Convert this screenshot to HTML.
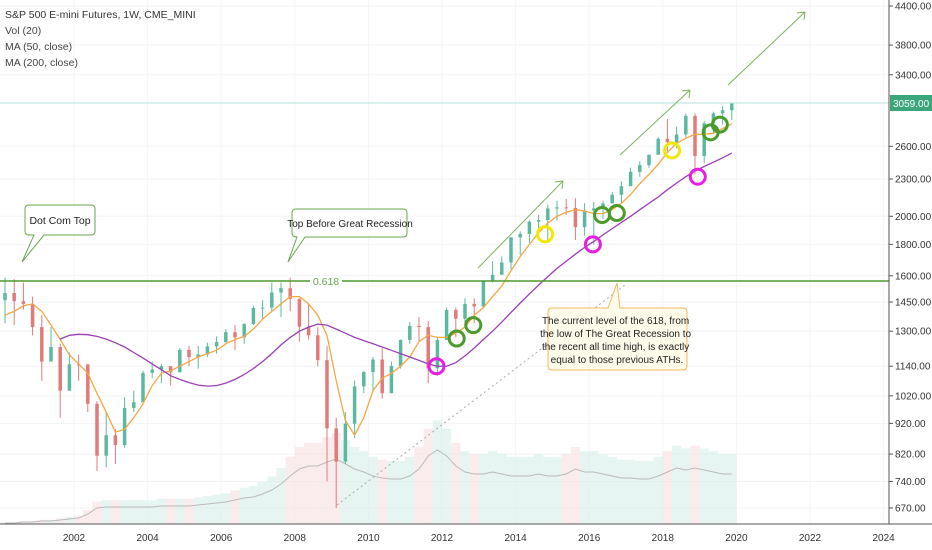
<!DOCTYPE html>
<html><head><meta charset="utf-8"><style>
body{margin:0;background:#fff;}
svg{display:block;font-family:"Liberation Sans",sans-serif;}
</style></head><body>
<svg id="chart" width="932" height="550" xmlns="http://www.w3.org/2000/svg">
<rect width="932" height="550" fill="#fff"/>
<g id="grid"></g>
<g id="vol"></g>
<line x1="337" y1="505" x2="625" y2="285" stroke="#aaa" stroke-width="1" stroke-dasharray="2,3"/>
<g id="candles"></g>
<g id="mas"></g>
<line x1="0" y1="103" x2="889" y2="103" stroke="#b5e2da" stroke-width="1"/>
<line x1="0" y1="281" x2="310" y2="281" stroke="#4f9a2c" stroke-width="1.5"/>
<line x1="342" y1="281" x2="889" y2="281" stroke="#4f9a2c" stroke-width="1.5"/>
<text x="326" y="285" font-size="10.5" fill="#6aa84f" text-anchor="middle">0.618</text>
<g fill="none" stroke="#7cb45a" stroke-width="1">
<path d="M478 268 L563 181 M563 181 l-8 1 M563 181 l-1 8"/>
<path d="M620 155 L690 90 M690 90 l-8 1 M690 90 l-1 8"/>
<path d="M728 85 L805 12 M805 12 l-8 1 M805 12 l-1 8"/>
</g>
<g id="circles" fill="none" stroke-width="3"></g>
<g>
<path d="M29 205 H91 Q95 205 95 209 V231 Q95 235 91 235 H44 L22 262 L34 235 H29 Q25 235 25 231 V209 Q25 205 29 205 Z" fill="#fff" stroke="#6aa84f" stroke-width="1"/>
<text x="60" y="224" font-size="10.5" text-anchor="middle" fill="#222">Dot Com Top</text>
</g>
<g>
<path d="M296 209 H403 Q407 209 407 213 V233 Q407 237 403 237 H305 L288 262 L297 237 Q292 237 292 233 V213 Q292 209 296 209 Z" fill="#fff" stroke="#6aa84f" stroke-width="1"/>
<text x="350" y="227" font-size="10" text-anchor="middle" fill="#222">Top Before Great Recession</text>
</g>
<g>
<path d="M552 308 H608 L617 283 L620 308 H683 Q687 308 687 312 V366 Q687 370 683 370 H552 Q548 370 548 366 V312 Q548 308 552 308 Z" fill="#fffbea" stroke="#f0b860" stroke-width="1"/>
<text font-size="10" text-anchor="middle" fill="#222">
<tspan x="617" y="324">The current level of the 618, from</tspan>
<tspan x="617" y="337">the low of The Great Recession to</tspan>
<tspan x="617" y="350">the recent all time high, is exactly</tspan>
<tspan x="617" y="363">equal to those previous ATHs.</tspan></text>
</g>
<line x1="889" y1="0" x2="889" y2="524" stroke="#555"/>
<line x1="0" y1="524" x2="932" y2="524" stroke="#555"/>
<g id="axes" font-size="10" fill="#333"></g>
<rect x="890" y="95" width="42" height="16" fill="#3ba67a"/>
<text x="893" y="107" font-size="10" fill="#fff">3059.00</text>
<g font-size="10.5" fill="#333">
<text x="5" y="18">S&amp;P 500 E-mini Futures, 1W, CME_MINI</text>
<text x="5" y="34" fill="#444">Vol (20)</text>
<text x="5" y="50" fill="#444">MA (50, close)</text>
<text x="5" y="66" fill="#444">MA (200, close)</text>
</g>
</svg>
<script>
const closes=[1500,1455,1440,1320, 1160,1225,1040,1148, 1147,990,815,880, 848,975,996,1112, 1126,1140,1114,1212, 1180,1191,1228,1248, 1295,1270,1335,1418, 1420,1503,1527,1468, 1322,1280,1166,903, 797,919,1057,1115, 1169,1030,1141,1258, 1326,1320,1131,1258, 1408,1362,1440,1426, 1569,1606,1682,1848, 1872,1960,1972,2059, 2068,2063,1920,2044, 2060,2099,2168,2239, 2363,2423,2519,2674, 2641,2718,2914,2507, 2834,2942,2977,3059];
const highs=[1590,1580,1560,1480, 1380,1320,1240,1200, 1190,1150,1000,960, 900,1015,1040,1120, 1160,1150,1140,1220, 1230,1230,1245,1275, 1310,1330,1340,1430, 1460,1560,1560,1590, 1470,1440,1320,1230, 940,960,1080,1120, 1180,1220,1160,1260, 1345,1370,1350,1270, 1420,1420,1470,1470, 1570,1690,1720,1850, 1890,1970,2010,2090, 2120,2135,2140,2100, 2110,2120,2190,2280, 2400,2460,2520,2690, 2880,2800,2940,2940, 2860,2960,3020,3060];
const lows=[1340,1330,1410,1280, 1080,1200,940,1040, 1080,960,770,780, 790,840,960,1000, 1090,1070,1060,1120, 1140,1130,1180,1195, 1245,1210,1240,1330, 1360,1400,1370,1400, 1250,1260,1140,740, 670,790,870,1030, 1040,1010,1040,1130, 1240,1250,1070,1100, 1260,1270,1330,1340, 1420,1560,1620,1640, 1730,1810,1900,1810, 1970,2010,1830,1860, 1800,1980,2120,2100, 2240,2320,2400,2520, 2550,2580,2690,2340, 2440,2720,2820,2870];
const ma50=[1380,1400,1430,1440, 1400,1330,1260,1190, 1150,1110,1030,960, 890,900,940,990, 1060,1110,1120,1140, 1160,1180,1195,1210, 1240,1260,1275,1310, 1360,1400,1440,1480, 1480,1440,1380,1280, 1080,930,880,940, 1040,1090,1110,1140, 1180,1250,1280,1270, 1270,1290,1320,1380, 1420,1480,1540,1630, 1720,1800,1880,1950, 2000,2030,2050,2040, 2020,2020,2050,2100, 2170,2260,2340,2430, 2540,2630,2680,2720, 2720,2730,2780,2830];
const ma200=[null,null,null,null, null,null,1262,1280, 1285,1283,1275,1262, 1245,1225,1200,1175, 1150,1125,1100,1085, 1072,1062,1058,1060, 1070,1085,1105,1130, 1160,1195,1235,1270, 1300,1320,1335,1330, 1310,1290,1270,1255, 1240,1225,1210,1195, 1180,1165,1150,1140, 1140,1155,1185,1220, 1260,1300,1345,1395, 1445,1495,1545,1595, 1645,1690,1735,1780, 1820,1865,1910,1955, 2000,2050,2100,2150, 2210,2265,2320,2370, 2410,2450,2490,2535];
const volMA=[1,1,2,2, 3,3,4,5, 6,10,16,17, 17,17,17,17, 17,18,18,18, 18,19,20,21, 22,24,26,27, 30,34,40,48, 55,58,58,62, 65,60,55,52, 48,46,45,45, 48,55,68,74, 68,58,52,50, 50,52,50,48, 48,48,50,48, 48,50,55,52, 52,50,48,46, 46,45,45,48, 52,56,54,56, 54,52,50,50];
const yTicks=[4400,3800,3400,2600,2300,2000,1800,1600,1450,1300,1140,1020,920,820,740,670];
const xTicks=[2002,2004,2006,2008,2010,2012,2014,2016,2018,2020,2022,2024];
const greenCircles=[[2012.4,1265],[2012.85,1330],[2016.35,2010],[2016.75,2025],[2019.3,2740],[2019.55,2820]];
const yellowCircles=[[2014.8,1870],[2018.25,2560]];
const pinkCircles=[[2011.85,1140],[2016.1,1800],[2018.95,2320]];
const NS='http://www.w3.org/2000/svg';
function X(t){return 74+(t-2002)*36.8;}
function Y(p){return 6+(Math.log(4400)-Math.log(p))*266.7;}
function VY(v){return 524-v*1.0;}
function tq(i){return 2000+i*0.25+0.125;}
function mk(tag,attrs,parent){const e=document.createElementNS(NS,tag);for(const k in attrs)e.setAttribute(k,attrs[k]);parent.appendChild(e);return e;}
const grid=document.getElementById('grid'),axes=document.getElementById('axes');
yTicks.forEach(v=>{const y=Y(v);
 const g=mk('line',{x1:0,x2:889,y1:y,y2:y,stroke:'#f2f3f5'},grid);
 
 
 const tk=mk('line',{x1:889,x2:893,y1:y,y2:y,stroke:'#555'},axes);
 
 
 const t=mk('text',{x:895,y:y+3.5},axes);t.textContent=v.toFixed(2);
 
 
});
xTicks.forEach(v=>{const x=X(v);
 const g=mk('line',{x1:x,x2:x,y1:0,y2:524,stroke:'#f4f5f7'},grid);
 
 
 const t=mk('text',{x:x,y:541,'text-anchor':'middle'},axes);t.textContent=v;
 
 
});
const vol=document.getElementById('vol');
closes.forEach((c,i)=>{const up=c>=(i?closes[i-1]:c);const h=volMA[i]*1.4;
 const r=mk('rect',{x:X(tq(i))-4.6,y:524-h,width:9.2,height:h,fill:up?'#d6eee8':'#f7e0e0',opacity:0.6},vol);
 
 
});
const vp=volMA.map((v,i)=>(i?'L':'M')+X(tq(i)).toFixed(1)+' '+VY(v).toFixed(1)).join(' ');
const vl=mk('path',{d:vp,fill:'none',stroke:'#bbb','stroke-width':1},vol);


const cg=document.getElementById('candles');
closes.forEach((c,i)=>{const o=i?closes[i-1]:1460;const x=X(tq(i));const up=c>=o;const col=up?'#5cb8a0':'#e27a7a';
 const w=mk('line',{x1:x,x2:x,y1:Y(highs[i]),y2:Y(lows[i]),stroke:col,'stroke-width':1},cg);
 
 
 const top=Y(Math.max(o,c)),bot=Y(Math.min(o,c));
 const b=mk('rect',{x:x-1.75,y:top,width:3.5,height:Math.max(1,bot-top),fill:col},cg);
 
 
});
const mg=document.getElementById('mas');
function line(arr,col,name){let d='';arr.forEach((v,i)=>{if(v==null)return;d+=(d?'L':'M')+X(tq(i)).toFixed(1)+' '+Y(v).toFixed(1)+' ';});
 const p=mk('path',{d:d,fill:'none',stroke:col,'stroke-width':1.3},mg);
 
 }
line(ma50,'#f5a742','ma50-line');
line(ma200,'#9c3fb5','ma200-line');
const cc=document.getElementById('circles');
[[greenCircles,'#4a9a2c'],[yellowCircles,'#f5e800'],[pinkCircles,'#e81ee0']].forEach(([arr,col])=>arr.forEach(([t,p])=>{
 const c=mk('circle',{cx:X(t),cy:Y(p),r:7.5,stroke:col},cc);
 
 
}));
</script>
</body></html>
